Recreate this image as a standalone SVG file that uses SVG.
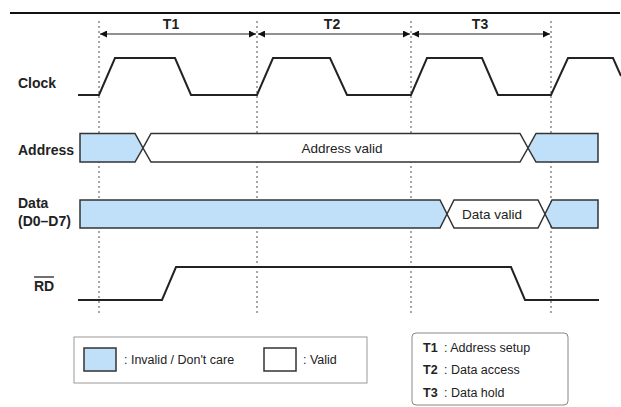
<svg xmlns="http://www.w3.org/2000/svg" width="621" height="407" viewBox="0 0 621 407">
<defs>
<marker id="ah" viewBox="0 0 10 10" refX="10" refY="5" markerWidth="7" markerHeight="7" orient="auto-start-reverse" markerUnits="userSpaceOnUse">
<path d="M0,0 L10,5 L0,10 Z" fill="#111"/>
</marker>
</defs>
<style>
.lbl{font-family:"Liberation Sans",Arial,sans-serif;font-weight:bold;font-size:14px;fill:#222}
.txt{font-family:"Liberation Sans",Arial,sans-serif;font-size:13.5px;fill:#222}
.lg{font-family:"Liberation Sans",Arial,sans-serif;font-size:12.5px;fill:#222}
.lgb{font-family:"Liberation Sans",Arial,sans-serif;font-size:12.5px;font-weight:bold;fill:#222}
.wave{fill:none;stroke:#222;stroke-width:2;stroke-linejoin:miter}
.inv{fill:#bfe0f8;stroke:#333;stroke-width:1.5}
.val{fill:#fff;stroke:#333;stroke-width:1.5}
.dot{stroke:#777;stroke-width:1.3;stroke-dasharray:2,3}
.dim{stroke:#222;stroke-width:1}
</style>
<rect width="621" height="407" fill="#fff"/>
<line x1="10" y1="13" x2="620" y2="13" stroke="#111" stroke-width="2"/>

<g id="gridlines">
<line class="dot" x1="99" y1="21" x2="99" y2="315"/>
<line class="dot" x1="257" y1="21" x2="257" y2="315"/>
<line class="dot" x1="411" y1="21" x2="411" y2="315"/>
<line class="dot" x1="551" y1="21" x2="551" y2="315"/>
</g>

<g id="connectors">
<line class="dim" x1="100" y1="34" x2="256" y2="34" marker-start="url(#ah)" marker-end="url(#ah)"/>
<line class="dim" x1="258" y1="34" x2="410" y2="34" marker-start="url(#ah)" marker-end="url(#ah)"/>
<line class="dim" x1="412" y1="34" x2="550" y2="34" marker-start="url(#ah)" marker-end="url(#ah)"/>
</g>

<g id="period-labels">
<text class="lbl" x="171" y="29" text-anchor="middle">T1</text>
<text class="lbl" x="332" y="29" text-anchor="middle">T2</text>
<text class="lbl" x="480" y="29" text-anchor="middle">T3</text>
</g>

<g id="clock">
<text class="lbl" x="18" y="88">Clock</text>
<path class="wave" d="M78,95 L99,95 L115,58 L175,58 L191,95 L257,95 L273,58 L330,58 L347,95 L411,95 L427,58 L482,58 L498,95 L551,95 L568,58 L613,58 L621,76"/>
</g>

<g id="address">
<text class="lbl" x="18" y="155">Address</text>
<path class="inv" d="M80,133.5 L135,133.5 L143,148 L135,162 L80,162 Z"/>
<path class="val" d="M151,133.5 L520,133.5 L528,148 L520,162 L151,162 L143,148 Z"/>
<path class="inv" d="M536,133.5 L598,133.5 L598,162 L536,162 L528,148 Z"/>
<text class="txt" x="342" y="153" text-anchor="middle">Address valid</text>
</g>

<g id="data">
<text class="lbl" x="18" y="208">Data</text>
<text class="lbl" x="18" y="226">(D0–D7)</text>
<path class="inv" d="M80,200 L440,200 L447,214 L440,228 L80,228 Z"/>
<path class="val" d="M454,200 L538,200 L545,214 L538,228 L454,228 L447,214 Z"/>
<path class="inv" d="M552,200 L598,200 L598,228 L552,228 L545,214 Z"/>
<text class="txt" x="492" y="219" text-anchor="middle">Data valid</text>
</g>

<g id="rd">
<text class="lbl" x="34" y="291">RD</text>
<line x1="34" y1="277" x2="54" y2="277" stroke="#222" stroke-width="1.3"/>
<path class="wave" d="M78,300 L162,300 L176,267 L511,267 L525,300 L599,300"/>
</g>

<g id="legend-states">
<rect x="74" y="337" width="293" height="46" fill="#fff" stroke="#999" stroke-width="1"/>
<rect x="84" y="348" width="32" height="23" fill="#bfe0f8" stroke="#333" stroke-width="1.5"/>
<text class="lg" x="124" y="364">: Invalid / Don't care</text>
<rect x="264" y="348" width="32" height="23" fill="#fff" stroke="#333" stroke-width="1.5"/>
<text class="lg" x="303" y="364">: Valid</text>
</g>

<g id="legend-periods">
<rect x="412" y="333" width="156" height="72" rx="4" ry="4" fill="#fff" stroke="#888" stroke-width="1"/>
<text class="lgb" x="423" y="352">T1</text><text class="lg" x="444" y="352">: Address setup</text>
<text class="lgb" x="423" y="374">T2</text><text class="lg" x="444" y="374">: Data access</text>
<text class="lgb" x="423" y="397">T3</text><text class="lg" x="444" y="397">: Data hold</text>
</g>
</svg>
